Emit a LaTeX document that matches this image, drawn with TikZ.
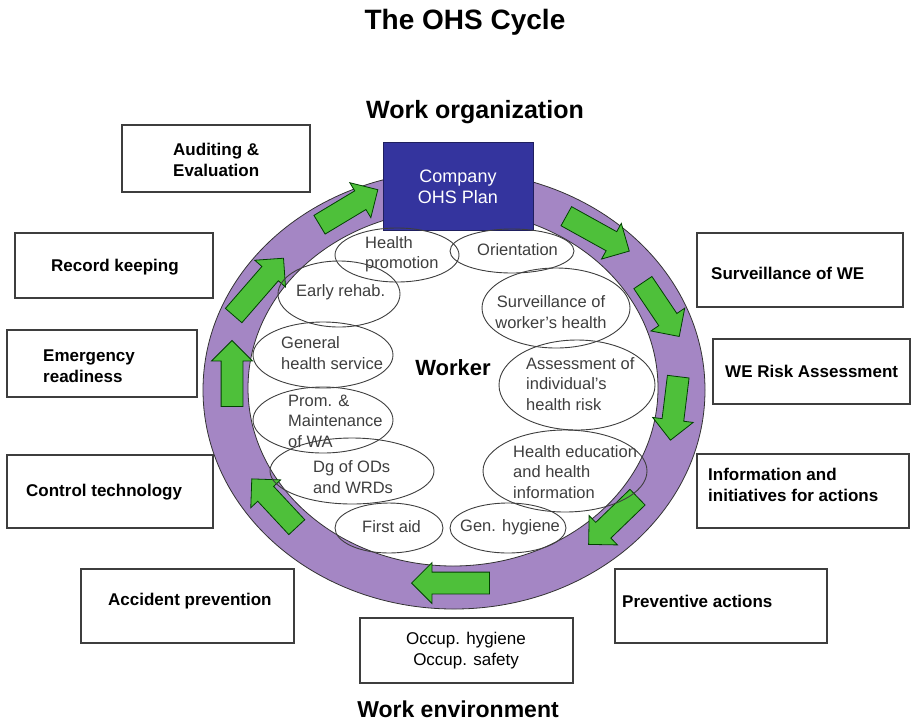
\documentclass[tikz,border=0pt]{standalone}
\usepackage{fontspec}
\setmainfont{Liberation Sans}
\usetikzlibrary{shapes.arrows}

\definecolor{ringpurple}{RGB}{164,134,196}
\definecolor{arrowgreen}{RGB}{78,192,58}
\definecolor{planblue}{RGB}{52,52,158}
\definecolor{inkgray}{RGB}{62,62,62}

\tikzset{
  box/.style={draw=inkgray, line width=1.2pt, fill=white},
  boxtext/.style={font=\fontsize{17}{21}\selectfont\bfseries, align=left, anchor=west, inner sep=0pt},
  bubble/.style={draw=inkgray, line width=0.9pt},
  bubtext/.style={font=\fontsize{16.5}{20.5}\selectfont, text=inkgray, align=left, anchor=west, inner sep=0pt},
  flow/.style={single arrow, draw=green!25!black, line width=0.8pt, fill=arrowgreen,
    minimum width=40pt, single arrow head extend=9.5pt, inner xsep=0pt, inner ysep=10.5pt},
}

\begin{document}
\begin{tikzpicture}[x=1pt,y=-1pt]
\useasboundingbox (0,0) rectangle (912,724);

% titles
\node[font=\fontsize{28}{32}\selectfont\bfseries, anchor=base] (title) at (465,29) {The OHS Cycle};
\node[font=\fontsize{25}{30}\selectfont\bfseries, anchor=base] (org) at (475,118) {Work organization};
\node[font=\fontsize{23}{28}\selectfont\bfseries, anchor=base] (env) at (458,717) {Work environment};

% the ring
\fill[ringpurple, even odd rule] (454,390) ellipse [x radius=251, y radius=219]
  (453,388) ellipse [x radius=205, y radius=178];
\draw[line width=0.8pt, black!80] (454,390) ellipse [x radius=251, y radius=219];
\draw[line width=0.8pt, black!80] (453,388) ellipse [x radius=205, y radius=178];

% plan box on top
\draw[fill=planblue, draw=planblue!60!black, line width=1pt] (383,142) rectangle (533,230);
\node[font=\fontsize{18}{21}\selectfont, text=white, align=center] (plan) at (458,187) {Company\\OHS Plan};

% green arrows round the ring
\node[flow, minimum height=68pt, rotate=31] (arr1) at (344,210) {};
\node[flow, minimum height=76pt, rotate=49] (arr2) at (255,291) {};
\node[flow, minimum height=66pt, rotate=90] (arr3) at (232,379) {};
\node[flow, minimum height=66pt, rotate=133] (arr4) at (278,507) {};
\node[flow, minimum height=78pt, rotate=180] (arr5) at (456,583) {};
\node[flow, minimum height=68pt, rotate=-136] (arr6) at (617,517) {};
\node[flow, minimum height=64pt, rotate=-97] (arr7) at (675,403) {};
\node[flow, minimum height=65pt, rotate=-56] (arr8) at (658,305) {};
\node[flow, minimum height=72pt, rotate=-29] (arr9) at (593,231) {};

% inner bubbles
\draw[bubble] (397,255) ellipse [x radius=62, y radius=27];
\draw[bubble] (512,251) ellipse [x radius=62, y radius=22];
\draw[bubble] (339,294) ellipse [x radius=61, y radius=33];
\draw[bubble] (556,308) ellipse [x radius=74, y radius=40];
\draw[bubble] (323,355) ellipse [x radius=70, y radius=33];
\draw[bubble] (577,385) ellipse [x radius=78, y radius=45];
\draw[bubble] (323,420) ellipse [x radius=70, y radius=33];
\draw[bubble] (352,471) ellipse [x radius=82, y radius=33];
\draw[bubble] (565,471) ellipse [x radius=82, y radius=41];
\draw[bubble] (389,528) ellipse [x radius=54, y radius=25];
\draw[bubble] (508,528) ellipse [x radius=58, y radius=25];

\node[bubtext] (hp) at (365,254) {Health\\promotion};
\node[bubtext] (orient) at (477,250) {Orientation};
\node[bubtext] (rehab) at (296,292) {Early rehab.};
\node[bubtext, align=center, anchor=center] (survh) at (551,312) {Surveillance of\\worker's health};
\node[bubtext] (genserv) at (281,353) {General\\health service};
\node[bubtext] (assess) at (526,384) {Assessment of\\individual's\\health risk};
\node[bubtext] (prom) at (288,421) {Prom. \&\\Maintenance\\of WA};
\node[bubtext] (diag) at (313,477) {Dg of ODs\\and WRDs};
\node[bubtext] (hedu) at (513,472) {Health education\\and health\\information};
\node[bubtext] (aid) at (362,527) {First aid};
\node[bubtext] (hyg) at (460,527) {Gen. hygiene};

\node[font=\fontsize{22}{26}\selectfont\bfseries, anchor=base] (worker) at (453,375) {Worker};

% outer boxes
\draw[box] (122,125) rectangle (310,192);
\draw[box] (15,233) rectangle (213,298);
\draw[box] (7,330) rectangle (197,397);
\draw[box] (7,455) rectangle (213,528);
\draw[box] (81,569) rectangle (294,643);
\draw[box] (360,618) rectangle (573,683);
\draw[box] (615,569) rectangle (827,643);
\draw[box] (697,454) rectangle (909,528);
\draw[box] (697,233) rectangle (903,307);
\draw[box] (713,339) rectangle (910,404);

\node[boxtext] (audit) at (173,160) {Auditing \&\\Evaluation};
\node[boxtext] (record) at (51,267) {Record keeping};
\node[boxtext] (emerg) at (43,366) {Emergency\\readiness};
\node[boxtext] (control) at (26,492) {Control technology};
\node[boxtext] (accid) at (108,601) {Accident prevention};
\node[font=\fontsize{17}{21}\selectfont, align=center] (occup) at (466,651) {Occup. hygiene\\Occup. safety};
\node[boxtext] (prevent) at (622,601) {Preventive actions};
\node[boxtext] (inform) at (708,485) {Information and\\initiatives for actions};
\node[boxtext] (survwe) at (711,273) {Surveillance of WE};
\node[boxtext] (risk) at (725,371) {WE Risk Assessment};

\end{tikzpicture}
\end{document}
